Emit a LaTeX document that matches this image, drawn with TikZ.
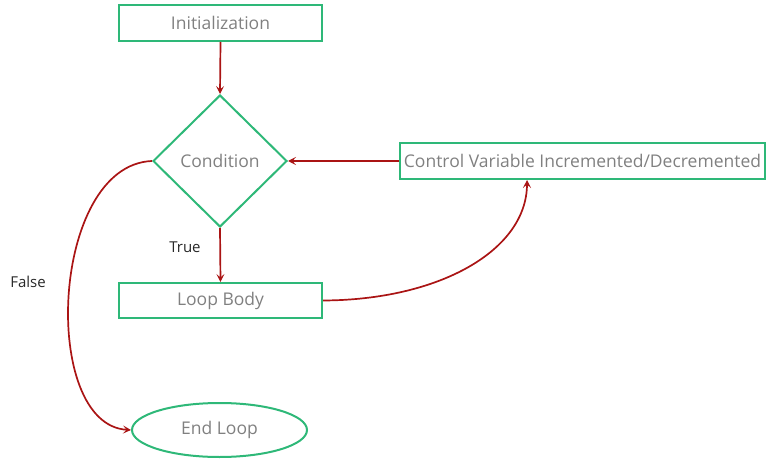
\documentclass[tikz,border=0pt]{standalone}
\usepackage{fontspec}
\setmainfont{Open Sans}
\usetikzlibrary{shapes.geometric,arrows.meta}
\definecolor{boxgreen}{RGB}{46,184,120}
\definecolor{arrowred}{RGB}{170,20,20}
\definecolor{txtgray}{RGB}{128,128,128}
\definecolor{lbl}{RGB}{40,40,40}
\tikzset{
  procbox/.style={draw=boxgreen, line width=2pt, rectangle, inner sep=0pt, text=txtgray, font=\fontsize{17.5}{19}\selectfont},
  decbox/.style={draw=boxgreen, line width=2pt, diamond, inner sep=0pt, minimum width=134pt, minimum height=132pt, text=txtgray, font=\fontsize{17.5}{19}\selectfont},
  endbox/.style={draw=boxgreen, line width=2pt, ellipse, inner sep=0pt, minimum width=175pt, minimum height=54pt, text=txtgray, font=\fontsize{17.5}{19}\selectfont},
  flow/.style={draw=arrowred, line width=1.7pt, -{Stealth[length=8pt,width=8pt,inset=3.5pt]}},
  edgelbl/.style={text=lbl, font=\fontsize{15}{17}\selectfont}
}
\begin{document}
\begin{tikzpicture}[x=1pt,y=-1pt]
\useasboundingbox (0,0) rectangle (768,462);
\node[procbox, minimum width=203pt, minimum height=36pt] (init) at (220.5,23) {Initialization};
\node[decbox] (cond) at (220,161) {Condition};
\node[procbox, minimum width=365pt, minimum height=36pt] (ctrl) at (582.5,161) {Control Variable Incremented/Decremented};
\node[procbox, minimum width=203pt, minimum height=35pt] (body) at (220.5,300.5) {Loop Body};
\node[endbox] (end) at (219.5,430) {End Loop};
\coordinate (ctrlin) at (527,180);
\node[edgelbl] (truelbl) at (185,247) {True};
\node[edgelbl] (falselbl) at (28,282) {False};
\draw[flow] (init.south) -- (cond.north);
\draw[flow] (ctrl.west) -- (cond.east);
\draw[flow] (cond.south) -- (body.north);
\draw[flow] (body.east) .. controls (440,300) and (527,250) .. (ctrlin);
\draw[flow] (cond.west) .. controls (50,165) and (40,425) .. (end.west);
\end{tikzpicture}
\end{document}
